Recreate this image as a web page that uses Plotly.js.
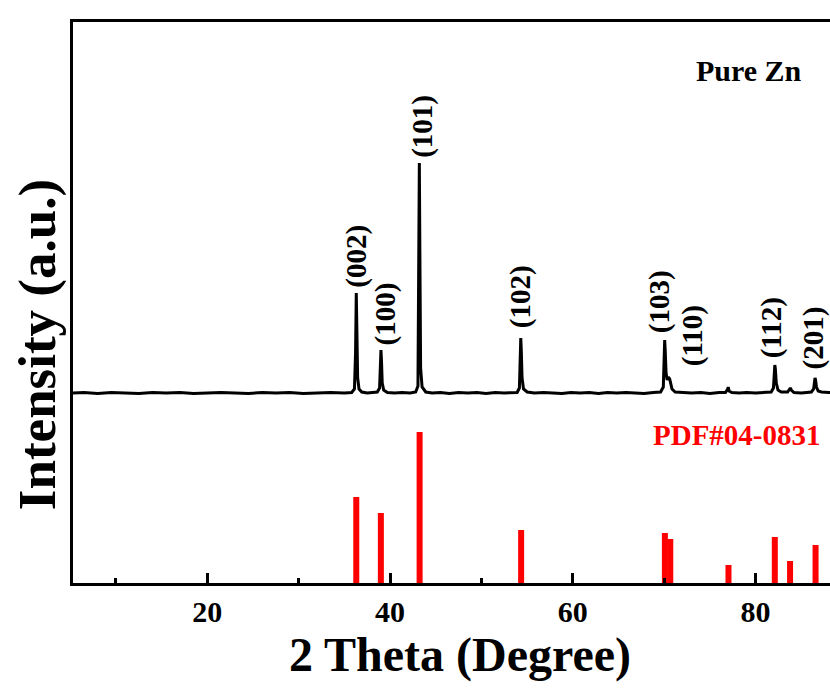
<!DOCTYPE html>
<html>
<head>
<meta charset="utf-8">
<script src="https://cdn.plot.ly/plotly-3.0.1.min.js"></script>
<style>
  html, body { margin: 0; padding: 0; overflow: hidden; background: #fff; }
  #chart { width: 860px; height: 689px; }
</style>
</head>
<body>
<div id="chart"></div>
<script>
// ---- Data ----
// Measured XRD pattern of pure Zn (2θ in degrees, intensity in a.u. incl. offset)
const twoTheta = [5.3, 6.5, 8, 9.5, 11, 12.5, 14, 15.5, 17, 18.5, 20, 21.5, 23, 24.5, 26, 27.5, 29, 30.5, 32, 33.5, 35,
  35.8, 36.1, 36.22, 36.3, 36.36, 36.45, 36.6, 36.9, 37.5, 38.2,
  38.6, 38.85, 38.94, 39.0, 39.06, 39.14, 39.3, 39.7, 40.5, 41.3, 42.2,
  42.8, 43.05, 43.14, 43.2, 43.26, 43.34, 43.5, 43.9, 44.6, 45.5, 46.5, 47.5, 48.5, 49.5, 50.5, 51.5, 52.5, 53.3,
  53.9, 54.15, 54.24, 54.3, 54.36, 54.44, 54.6, 55.0, 55.8, 56.8, 57.8, 58.8, 59.8, 60.8, 61.8, 62.8, 63.8, 64.8, 65.8, 66.8, 67.8, 68.8,
  69.6, 69.9, 69.99, 70.05, 70.11, 70.2, 70.32, 70.45, 70.6, 70.72, 70.85, 71.2, 72, 73, 74, 75, 76,
  76.7, 76.95, 77.0, 77.1, 77.4, 78.2, 79, 80, 81,
  81.7, 81.95, 82.04, 82.1, 82.16, 82.26, 82.45, 82.8,
  83.5, 83.7, 83.8, 83.9, 84.2, 85, 85.7,
  86.1, 86.35, 86.44, 86.5, 86.56, 86.66, 86.85, 87.2, 88, 89, 90];
const intensity = [190, 190.5, 189.5, 190.5, 190, 189.5, 190.5, 190, 190.5, 189.5, 190, 190.5, 190, 189.5, 190.5, 190, 190.5, 189.5, 190, 190.5, 190,
  190.5, 194, 230, 290, 250, 205, 194, 191, 190, 190.5,
  191, 195, 215, 233, 222, 200, 193, 190.5, 190, 190.5, 190,
  191, 197, 290, 420, 330, 215, 196, 191, 190, 190.5, 189.5, 190.5, 190, 190.5, 189.5, 190.5, 190, 190.5,
  190.5, 195, 225, 245, 232, 205, 194, 191, 190, 190.5, 190, 189.5, 190.5, 190, 190.5, 189.5, 190.5, 190, 190.5, 190, 189.5, 190.5,
  191, 196, 225, 243, 232, 210, 203, 206, 204, 200, 194, 191, 190.5, 190, 190.5, 189.5, 190.5,
  190.5, 194, 196, 192, 190.5, 190, 190.5, 190, 190.5,
  191, 195, 212, 218, 214, 200, 193, 191,
  191, 193.5, 195, 193, 190.5, 190, 190.5,
  191, 194, 202, 205, 203, 196, 192, 191, 190.5, 190, 190.5];

// Reference pattern PDF#04-0831 (stick positions and heights)
const pdfPos    = [36.30, 38.99, 43.23, 54.34, 70.07, 70.66, 77.03, 82.10, 83.77, 86.56];
const pdfHeight = [86, 70, 151, 53, 50, 44, 18, 46, 22, 38];

// Peak labels (Miller indices) with peak position and peak-top intensity
const hklLabels = ['(002)', '(100)', '(101)', '(102)', '(103)', '(110)', '(112)', '(201)'];
const hklPos    = [36.3, 39.0, 43.2, 54.3, 70.05, 70.6, 82.1, 86.5];
const hklTop    = [290, 233, 420, 245, 243, 204, 218, 205];

// x tick values
const majorTicks = [20, 40, 60, 80];

// ---- Build traces ----
const stickX = [], stickY = [];
pdfPos.forEach((p, i) => { stickX.push(p, p, null); stickY.push(0, pdfHeight[i], null); });

const FONT = 'Liberation Serif, Times New Roman, serif';

const traces = [
  { x: twoTheta, y: intensity, type: 'scatter', mode: 'lines',
    line: { color: '#000000', width: 3 }, hoverinfo: 'skip', showlegend: false },
  { x: stickX, y: stickY, type: 'scatter', mode: 'lines',
    line: { color: '#ff0000', width: 6 }, hoverinfo: 'skip', showlegend: false }
];

// label offsets in pixels (styling only)
const labelXShift = [0, 5, 3, 0, -5, 23, -3, -2];
const labelYShift = [3, 3, 3, 8, 5, 11, 5, 6];

const annotations = hklLabels.map((t, i) => ({
  x: hklPos[i], y: hklTop[i], xref: 'x', yref: 'y', text: t, showarrow: false,
  textangle: -90, xanchor: 'center', yanchor: 'bottom',
  xshift: labelXShift[i], yshift: labelYShift[i],
  font: { family: FONT, size: 29, color: '#000', weight: 'bold' }
}));

annotations.push(
  { x: 0.874, y: 0.913, xref: 'paper', yref: 'paper', text: 'Pure Zn', showarrow: false,
    xanchor: 'center', yanchor: 'middle',
    font: { family: FONT, size: 30, color: '#000', weight: 'bold' } },
  { x: 0.858, y: 0.264, xref: 'paper', yref: 'paper', text: 'PDF#04-0831', showarrow: false,
    xanchor: 'center', yanchor: 'middle',
    font: { family: FONT, size: 29, color: '#ff0000', weight: 'bold' } },
  { x: -0.0465, y: 0.424, xref: 'paper', yref: 'paper', text: 'Intensity (a.u.)', showarrow: false,
    textangle: -90, xanchor: 'center', yanchor: 'middle',
    font: { family: FONT, size: 53, color: '#000', weight: 'bold' } }
);

const layout = {
  width: 860, height: 689,
  margin: { l: 73, r: 13, t: 22, b: 106 },
  paper_bgcolor: '#ffffff', plot_bgcolor: '#ffffff',
  showlegend: false,
  xaxis: {
    range: [5.3, 90], showgrid: false, zeroline: false,
    showline: true, linecolor: '#000', linewidth: 3, mirror: true,
    tickmode: 'array', tickvals: majorTicks, ticktext: majorTicks.map(String),
    ticks: 'inside', ticklen: 10, tickwidth: 3, tickcolor: '#000',
    minor: { tickmode: 'linear', tick0: 0, dtick: 10, ticks: 'inside', ticklen: 5, tickwidth: 3, tickcolor: '#000', showgrid: false },
    tickfont: { family: FONT, size: 30, color: '#000', weight: 'bold' },
    title: { text: '2 Theta (Degree)', standoff: 8,
             font: { family: FONT, size: 48, color: '#000', weight: 'bold' } }
  },
  yaxis: {
    range: [0, 561], showgrid: false, zeroline: false,
    showline: true, linecolor: '#000', linewidth: 3, mirror: true,
    ticks: '', showticklabels: false
  },
  annotations: annotations
};

Plotly.newPlot('chart', traces, layout, { displayModeBar: false, staticPlot: true });
</script>
</body>
</html>
